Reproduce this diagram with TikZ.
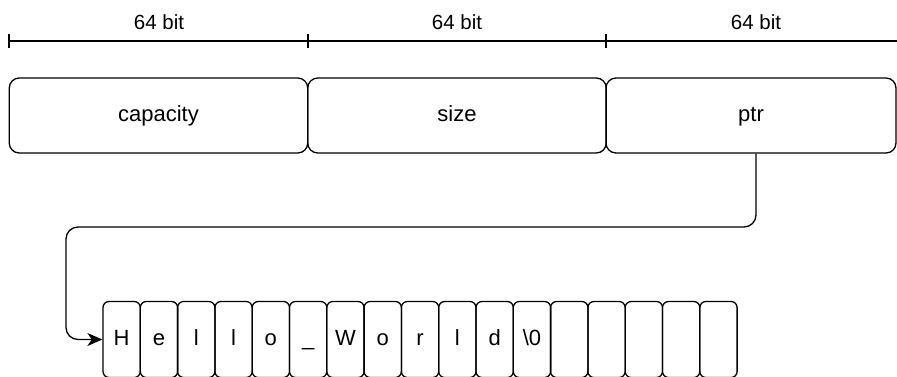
\documentclass[tikz,border=0pt]{standalone}
\usepackage{fontspec}
\setmainfont{Liberation Sans}
\usetikzlibrary{arrows.meta}
\begin{document}
\begin{tikzpicture}[x=1pt,y=-1pt,line width=1.3pt,
  field/.style={draw,rounded corners=10pt,minimum width=298.5pt,minimum height=75pt,inner sep=0pt,text height=16pt,text depth=4.5pt,font=\fontsize{22}{26}\selectfont},
  cell/.style={draw,rounded corners=6pt,minimum width=37.3pt,minimum height=76pt,inner sep=0pt,text height=16pt,text depth=4.5pt,font=\fontsize{22}{26}\selectfont},
  lbl/.style={inner sep=0pt,font=\fontsize{20.5}{24}\selectfont},
  tick/.style={line width=1.3pt}]
\useasboundingbox (0,0) rectangle (897,376);
% ruler
\coordinate (r0) at (9,41);
\coordinate (r1) at (308,41);
\coordinate (r2) at (606,41);
\coordinate (r3) at (900,41);
\draw (r0) -- (r3);
\foreach \t in {r0,r1,r2}{\draw ([yshift=-7pt]\t) -- ([yshift=7pt]\t);}
\node[lbl] (l1) at (159,22) {64 bit};
\node[lbl] (l2) at (457,22) {64 bit};
\node[lbl] (l3) at (756,22) {64 bit};
% fields
\node[field] (cap) at (158.5,115.5) {capacity};
\node[field] (size) at (457,115.5) {size};
\node[field,minimum width=290pt] (ptr) at (751,115.5) {ptr};
% cells
\foreach \c [count=\i] in {H,e,l,l,o,\_,W,o,r,l,d,\textbackslash0,{},{},{},{},{}}{
  \node[cell] (c\i) at ({103+37.3*(\i-0.5)},339.5) {\c};
}
% pointer
\coordinate (bend) at (66,227);
\draw[rounded corners=12pt,-{Stealth[length=15pt,width=13pt,inset=4.5pt]}] ([xshift=5pt]ptr.south) |- (bend) |- (c1.west);
\end{tikzpicture}
\end{document}
